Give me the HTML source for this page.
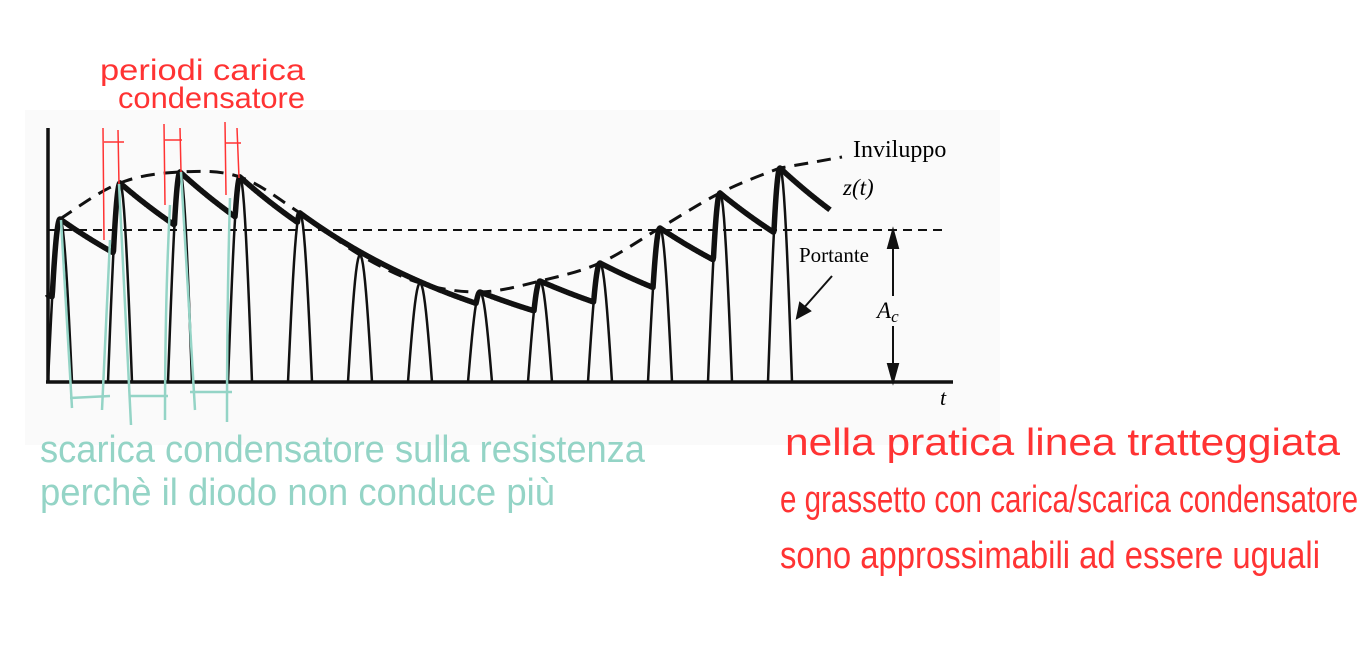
<!DOCTYPE html>
<html><head><meta charset="utf-8">
<style>
html,body{margin:0;padding:0;background:#fff;width:1361px;height:647px;overflow:hidden}
svg{display:block}
.hw{font-family:"Liberation Sans Narrow","Liberation Sans",sans-serif;font-weight:normal}
.ser{font-family:"Liberation Serif",serif}
</style></head>
<body>
<svg id="chart" width="1361" height="647" viewBox="0 0 1361 647" xmlns="http://www.w3.org/2000/svg">
<rect x="25" y="110" width="975" height="335" fill="#fafafa"/>
<g id="plot"></g>
<line x1="48" y1="128" x2="48" y2="382" stroke="#111" stroke-width="3.5"/>
<line x1="46" y1="382" x2="953" y2="382" stroke="#111" stroke-width="3.5"/>
<text class="ser" x="940" y="405" font-size="22" font-style="italic">t</text>
<text class="ser" x="853" y="157" font-size="24">Inviluppo</text>
<text class="ser" x="843" y="195" font-size="23" font-style="italic">z(t)</text>
<text class="ser" x="799" y="262" font-size="21">Portante</text>
<text class="ser" x="877" y="318" font-size="23" font-style="italic">A<tspan font-size="17" dy="4">c</tspan></text>
<g stroke="#111" stroke-width="2" fill="#111">
<line x1="893" y1="234" x2="893" y2="296"/><line x1="893" y1="326" x2="893" y2="378"/>
<polygon points="893,230 888,248 898,248"/><polygon points="893,382 888,364 898,364"/>
</g>
<g stroke="#111" stroke-width="2" fill="#111">
<line x1="832" y1="276" x2="802" y2="310"/><polygon points="797,318 800,303 810,311"/>
</g>
<g stroke="#f33" stroke-width="1.5" fill="none">
<path d="M103 128 L104 240 M118 130 L119 185 M104 142 L124 142"/>
<path d="M164 124 L165 205 M180 128 L181 172 M165 140 L182 140"/>
<path d="M225 122 L226 195 M237 128 L239 178 M226 143 L241 143"/>
</g>
<text class="hw" fill="#f33" font-size="30"><tspan x="100" y="80" textLength="205" lengthAdjust="spacingAndGlyphs">periodi carica</tspan><tspan x="118" y="108" textLength="187" lengthAdjust="spacingAndGlyphs">condensatore</tspan></text>
<g stroke="#94d4c6" stroke-width="2.5" fill="none">
<path d="M61 220 Q66 300 72 408 M110 240 Q106 320 102 410 M119 184 Q125 300 131 425 M170 205 Q165 300 165 420 M181 172 Q188 300 195 410 M230 198 Q227 300 227 422"/>
<path d="M70 398 L110 396 M130 396 L168 396 M190 392 L232 392"/>
</g>
<text class="hw" fill="#94d4c6" font-size="38"><tspan x="40" y="462" textLength="605" lengthAdjust="spacingAndGlyphs">scarica condensatore sulla resistenza</tspan><tspan x="40" y="505" textLength="515" lengthAdjust="spacingAndGlyphs">perchè il diodo non conduce più</tspan></text>
<text class="hw" fill="#f33" font-size="38"><tspan x="785" y="455" textLength="555" lengthAdjust="spacingAndGlyphs">nella pratica linea tratteggiata</tspan><tspan x="780" y="512" textLength="578" lengthAdjust="spacingAndGlyphs">e grassetto con carica/scarica condensatore</tspan><tspan x="780" y="568" textLength="540" lengthAdjust="spacingAndGlyphs">sono approssimabili ad essere uguali</tspan></text>
</svg>
<script>
const pulseStarts = [48,108,168,228,288,348,408,468,528,588,648,708,768];
const peakValues = [219,183,172,177,213,255,283,292,281,263,228,193,168];
const carrierLevel = [230];
const baseY = 382, W = 24, TAU = 230;
const NS = 'http://www.w3.org/2000/svg';
const g = document.getElementById('plot');
function pulseY(k, x){const h=baseY-peakValues[k];return baseY-h*Math.sin(Math.PI*(x-pulseStarts[k])/W);}
function pulseH(x){let best=0;pulseStarts.forEach((s,k)=>{if(x>=s&&x<=s+W){best=Math.max(best,baseY-pulseY(k,x));}});return best;}
const car = document.createElementNS(NS,'line');


car.setAttribute('x1',48);car.setAttribute('x2',948);
car.setAttribute('y1',carrierLevel[0]);car.setAttribute('y2',carrierLevel[0]);
car.setAttribute('stroke','#111');car.setAttribute('stroke-width','2');car.setAttribute('stroke-dasharray','9 6');
g.appendChild(car);
pulseStarts.forEach((s,k)=>{
  let d='';
  for(let i=0;i<=24;i++){const x=s+W*i/24;d+=(i?'L':'M')+x.toFixed(1)+' '+pulseY(k,x).toFixed(1);}
  const p=document.createElementNS(NS,'path');
  
  
  p.setAttribute('d',d);p.setAttribute('fill','none');p.setAttribute('stroke','#111');p.setAttribute('stroke-width','2.5');
  g.appendChild(p);
});
const pts=pulseStarts.map((s,k)=>[s+W/2,peakValues[k]]);
const ext=[[pts[0][0]-60,262],...pts,[pts[pts.length-1][0]+60,148]];
let ed='';
for(let i=1;i<ext.length-2;i++){
  const p0=ext[i-1],p1=ext[i],p2=ext[i+1],p3=ext[i+2];
  if(i===1) ed+='M'+p1[0]+' '+p1[1];
  ed+=`C${p1[0]+(p2[0]-p0[0])/6} ${p1[1]+(p2[1]-p0[1])/6} ${p2[0]-(p3[0]-p1[0])/6} ${p2[1]-(p3[1]-p1[1])/6} ${p2[0]} ${p2[1]}`;
}
const last=pts[pts.length-1];
ed+=`Q${last[0]+35} ${last[1]-6} ${last[0]+62} ${last[1]-11}`;
const env=document.createElementNS(NS,'path');


env.setAttribute('d',ed);env.setAttribute('fill','none');env.setAttribute('stroke','#111');env.setAttribute('stroke-width','3');env.setAttribute('stroke-dasharray','14 9');
g.appendChild(env);
// z(t): capacitor voltage simulation
let V=baseY-295, zd='M48 295';
const xEnd=pulseStarts[pulseStarts.length-1]+W/2+50;
for(let x=48;x<=xEnd;x+=0.5){
  const ph=pulseH(x);
  if(ph>=V){V=ph;}else{V=V*Math.exp(-0.5/TAU);}
  zd+='L'+x+' '+(baseY-V).toFixed(1);
}
const z=document.createElementNS(NS,'path');


z.setAttribute('d',zd);z.setAttribute('fill','none');z.setAttribute('stroke','#111');z.setAttribute('stroke-width','5.5');z.setAttribute('stroke-linejoin','round');
g.appendChild(z);
</script>
</body></html>
